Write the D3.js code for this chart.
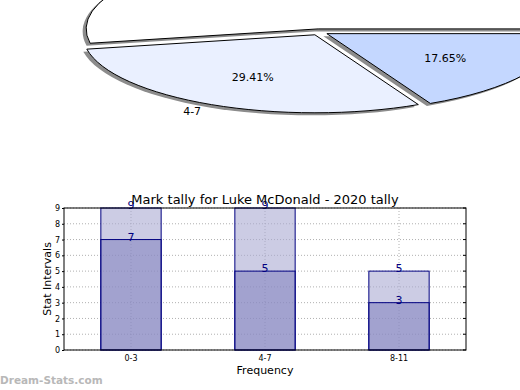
<!DOCTYPE html>
<html>
<head>
<meta charset="utf-8">
<script src="https://cdn.jsdelivr.net/npm/d3@7"></script>
<style>
  body { margin: 0; background: #fff; }
  svg { display: block; font-family: 'DejaVu Sans', sans-serif; }
</style>
</head>
<body>
<div id="chart"></div>
<script>
const categories = ['0-3', '4-7', '8-11'];
const pieValues = [9, 5, 3];
const pieColours = ['#ffffff', '#eaf0ff', '#c4d7ff'];
const totalValues = [9, 9, 5];
const markValues = [7, 5, 3];
const yTicks = [0, 1, 2, 3, 4, 5, 6, 7, 8, 9];
const TITLE = 'Mark tally for Luke McDonald - 2020 tally';

const WIDTH = 520;
const HEIGHT = 390;

function translate(x, y) {
  return `translate(${x}, ${y})`;
}

const svg = d3.select('#chart').append('svg')
  .attr('width', WIDTH)
  .attr('height', HEIGHT);

// Pie (squashed ellipse, most of it above the frame)
const pieCentre = {x: 319, y: 32};
const rx = 232;
const ry = 78;
const explode = 0.04;

const pie = d3.pie().sort(null)
  .startAngle(Math.PI / 2)
  .endAngle(Math.PI / 2 - 2 * Math.PI);
const arcs = pie(pieValues);
const arc = d3.arc().innerRadius(0).outerRadius(1);

function midOffset(d, r) {
  const a = (d.startAngle + d.endAngle) / 2;
  return [Math.sin(a) * r, -Math.cos(a) * r];
}

const pieG = svg.append('g');

// shadows first
arcs.forEach(d => {
  const [ox, oy] = midOffset(d, explode);
  pieG.append('path')
    .attr('transform', `translate(${pieCentre.x + ox * rx - 3.5}, ${pieCentre.y + oy * ry + 2.5}) scale(${rx}, ${ry})`)
    .attr('d', arc(d))
    .attr('fill', '#8c8c8c');
});

arcs.forEach((d, i) => {
  const [ox, oy] = midOffset(d, explode);
  pieG.append('path')
    .attr('transform', `translate(${pieCentre.x + ox * rx}, ${pieCentre.y + oy * ry}) scale(${rx}, ${ry})`)
    .attr('d', arc(d))
    .attr('fill', pieColours[i])
    .attr('stroke', '#000')
    .attr('stroke-width', 1)
    .attr('vector-effect', 'non-scaling-stroke');
});

const total = d3.sum(pieValues);
arcs.forEach((d, i) => {
  const [px, py] = midOffset(d, 0.6 + explode);
  pieG.append('text')
    .attr('x', pieCentre.x + px * rx)
    .attr('y', pieCentre.y + py * ry)
    .attr('dy', '0.35em')
    .attr('text-anchor', 'middle')
    .attr('font-size', 11)
    .attr('fill', '#000')
    .text(`${(d.value / total * 100).toFixed(2)}%`);

  const [lx, ly] = midOffset(d, 1.1 + explode);
  pieG.append('text')
    .attr('x', pieCentre.x + lx * rx)
    .attr('y', pieCentre.y + ly * ry)
    .attr('dy', '0.35em')
    .attr('text-anchor', lx < 0 ? 'end' : 'start')
    .attr('font-size', 11)
    .attr('fill', '#000')
    .text(categories[i]);
});

// Bar chart
const margin = {top: 208, left: 64, right: 54, bottom: 40};
const width = WIDTH - margin.left - margin.right;
const height = HEIGHT - margin.top - margin.bottom;

const g = svg.append('g').attr('transform', translate(margin.left, margin.top));

const x = d3.scaleBand().domain(categories).range([0, width]).padding(0);
const y = d3.scaleLinear().domain([0, 9]).range([height, 0]);
const barW = x.bandwidth() * 0.45;

// grid
g.append('g').selectAll('line')
  .data(yTicks)
  .join('line')
  .attr('x1', 0).attr('x2', width)
  .attr('y1', d => y(d)).attr('y2', d => y(d))
  .attr('stroke', '#b0b0b0')
  .attr('stroke-dasharray', '1,2');

g.append('g').selectAll('line')
  .data(categories)
  .join('line')
  .attr('x1', d => x(d) + x.bandwidth() / 2).attr('x2', d => x(d) + x.bandwidth() / 2)
  .attr('y1', 0).attr('y2', height)
  .attr('stroke', '#b0b0b0')
  .attr('stroke-dasharray', '1,2');

// back bars
g.append('g').selectAll('rect')
  .data(categories)
  .join('rect')
  .attr('x', d => x(d) + (x.bandwidth() - barW) / 2)
  .attr('width', barW)
  .attr('y', (d, i) => y(totalValues[i]))
  .attr('height', (d, i) => y(0) - y(totalValues[i]))
  .attr('fill', 'rgba(170,170,210,0.6)')
  .attr('stroke', '#000080')
  .attr('stroke-width', 1);

// front bars
g.append('g').selectAll('rect')
  .data(categories)
  .join('rect')
  .attr('x', d => x(d) + (x.bandwidth() - barW) / 2)
  .attr('width', barW)
  .attr('y', (d, i) => y(markValues[i]))
  .attr('height', (d, i) => y(0) - y(markValues[i]))
  .attr('fill', 'rgba(120,120,185,0.5)')
  .attr('stroke', '#000080')
  .attr('stroke-width', 1);

// value labels
[totalValues, markValues].forEach(vals => {
  g.append('g').selectAll('text')
    .data(categories)
    .join('text')
    .attr('x', d => x(d) + x.bandwidth() / 2)
    .attr('y', (d, i) => y(vals[i]) + 1)
    .attr('text-anchor', 'middle')
    .attr('font-size', 11)
    .attr('fill', '#000080')
    .text((d, i) => vals[i]);
});

// axes
const yAxis = g.append('g')
  .call(d3.axisLeft(y).tickValues(yTicks).tickSize(2).tickPadding(2));
yAxis.select('.domain').remove();
yAxis.selectAll('text').attr('font-size', 8).attr('font-family', 'DejaVu Sans');

const xAxis = g.append('g')
  .attr('transform', translate(0, height))
  .call(d3.axisBottom(x).tickSize(0).tickPadding(5));
xAxis.select('.domain').remove();
xAxis.selectAll('text').attr('font-size', 8).attr('font-family', 'DejaVu Sans');

g.append('g').selectAll('line')
  .data(yTicks)
  .join('line')
  .attr('x1', width - 3).attr('x2', width)
  .attr('y1', d => y(d)).attr('y2', d => y(d))
  .attr('stroke', '#000');

g.append('rect')
  .attr('width', width)
  .attr('height', height)
  .attr('fill', 'none')
  .attr('stroke', '#000')
  .attr('stroke-width', 1);

// titles
g.append('text')
  .attr('x', width / 2)
  .attr('y', -4)
  .attr('text-anchor', 'middle')
  .attr('font-size', 13)
  .text(TITLE);

g.append('text')
  .attr('x', width / 2)
  .attr('y', height + 24)
  .attr('text-anchor', 'middle')
  .attr('font-size', 11)
  .text('Frequency');

g.append('text')
  .attr('transform', `translate(${-13}, ${height / 2}) rotate(-90)`)
  .attr('text-anchor', 'middle')
  .attr('font-size', 11)
  .text('Stat Intervals');

svg.append('text')
  .attr('x', 0)
  .attr('y', 384)
  .attr('font-size', 10.5)
  .attr('font-weight', 'bold')
  .attr('fill', '#b8b8b8')
  .text('Dream-Stats.com');
</script>
</body>
</html>
